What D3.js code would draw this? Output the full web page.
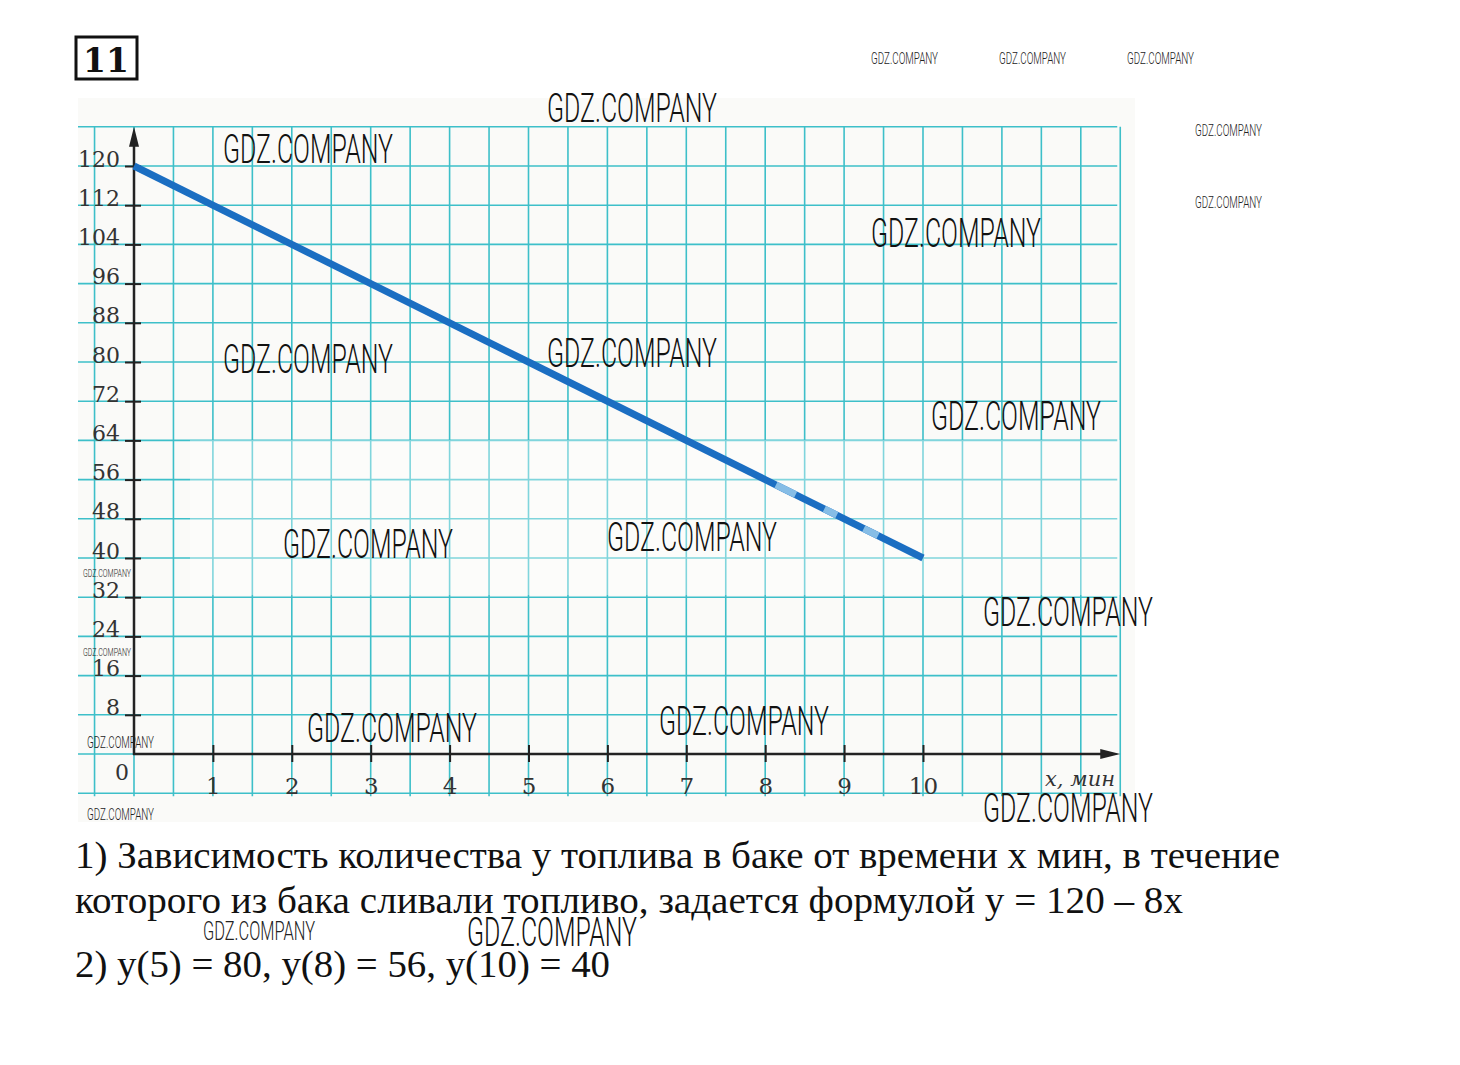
<!DOCTYPE html>
<html>
<head>
<meta charset="utf-8">
<script src="https://cdn.jsdelivr.net/npm/d3@7"></script>
<style>
  body { margin: 0; background: #fff; }
  svg { display: block; }
</style>
</head>
<body>
<svg id="chart" width="1460" height="1065"></svg>
<script>
// values
const xTicks = [1, 2, 3, 4, 5, 6, 7, 8, 9, 10];
const yTicks = [8, 16, 24, 32, 40, 48, 56, 64, 72, 80, 88, 96, 104, 112, 120];
const timeX = [0, 5, 8, 10];
const fuelY = [120, 80, 56, 40];
const answerLines = [
    "1) Зависимость количества у топлива в баке от времени х мин, в течение",
    "которого из бака сливали топливо, задается формулой у = 120 – 8х",
    "2) у(5) = 80, у(8) = 56, у(10) = 40"
];
const bigMarks = [
    [547, 107], [223, 148], [871, 232], [223, 358], [547, 352], [931, 415],
    [283, 543], [607, 536], [983, 611], [307, 727], [659, 720], [983, 807], [467, 931]
];
const smallMarks = [
    [871, 58], [999, 58], [1127, 58], [1195, 130], [1195, 202], [87, 742], [87, 814]
];

const svg = d3.select("#chart");

const x = d3.scaleLinear().domain([0, 10]).range([134, 923]);
const y = d3.scaleLinear().domain([0, 120]).range([754, 166]);

// scanned paper
svg.append("rect")
    .attr("x", 78).attr("y", 98)
    .attr("width", 1057).attr("height", 724)
    .attr("fill", "#fafaf8");

// problem number
svg.append("rect")
    .attr("x", 76).attr("y", 37)
    .attr("width", 61).attr("height", 42)
    .attr("fill", "none")
    .attr("stroke", "#111")
    .attr("stroke-width", 3);
svg.append("text")
    .attr("x", 106).attr("y", 72)
    .attr("text-anchor", "middle")
    .attr("font-family", "DejaVu Serif")
    .attr("font-weight", "bold")
    .attr("font-size", 33)
    .attr("fill", "#111")
    .text("11");

// grid
const grid = svg.append("g")
    .attr("stroke", "#3dbfc9")
    .attr("stroke-width", 1.6);

const gx = d3.range(-0.5, 12.51, 0.5);
const gy = d3.range(-8, 128.1, 8);

grid.selectAll(".v")
    .data(gx)
    .enter()
    .append("line")
    .attr("x1", d => x(d)).attr("x2", d => x(d))
    .attr("y1", y(128)).attr("y2", y(-8) + 3);

grid.selectAll(".h")
    .data(gy)
    .enter()
    .append("line")
    .attr("x1", 78).attr("x2", x(12.5) - 3)
    .attr("y1", d => y(d)).attr("y2", d => y(d));

// erased strip of the scan
svg.append("rect")
    .attr("x", 190).attr("y", 440)
    .attr("width", 930).attr("height", 155)
    .attr("fill", "#fff")
    .attr("opacity", 0.35);

// axes
const yAxis = svg.append("g")
    .attr("transform", `translate(${x(0)},0)`)
    .call(d3.axisLeft(y).tickValues(yTicks).tickSize(9).tickPadding(5));
yAxis.select(".domain").remove();
yAxis.selectAll(".tick line")
    .attr("x1", 7)
    .attr("stroke", "#222")
    .attr("stroke-width", 2);
yAxis.selectAll(".tick text")
    .attr("dy", "0")
    .attr("font-family", "DejaVu Serif")
    .attr("font-size", 22)
    .attr("fill", "#333");

const xAxis = svg.append("g")
    .attr("transform", `translate(0,${y(0)})`)
    .call(d3.axisBottom(x).tickValues(xTicks).tickSize(8).tickPadding(16));
xAxis.select(".domain").remove();
xAxis.selectAll(".tick line")
    .attr("y1", -9)
    .attr("stroke", "#222")
    .attr("stroke-width", 2);
xAxis.selectAll(".tick text")
    .attr("font-family", "DejaVu Serif")
    .attr("font-size", 23)
    .attr("fill", "#333");

svg.append("line")
    .attr("x1", x(0)).attr("x2", x(0))
    .attr("y1", y(0) + 1).attr("y2", y(128) + 12)
    .attr("stroke", "#222").attr("stroke-width", 2.5);
svg.append("line")
    .attr("x1", x(0) - 1).attr("x2", x(12.5) - 14)
    .attr("y1", y(0)).attr("y2", y(0))
    .attr("stroke", "#222").attr("stroke-width", 2.5);

svg.append("path")
    .attr("d", `M${x(0)},${y(128)} l-5,20 l10,0 z`)
    .attr("fill", "#222");
svg.append("path")
    .attr("d", `M${x(12.5)},${y(0)} l-20,-5 l0,10 z`)
    .attr("fill", "#222");

svg.append("text")
    .attr("x", x(0) - 12).attr("y", y(0) + 26)
    .attr("text-anchor", "middle")
    .attr("font-family", "DejaVu Serif")
    .attr("font-size", 22)
    .attr("fill", "#333")
    .text("0");

svg.append("text")
    .attr("x", 1115).attr("y", y(0) + 32)
    .attr("text-anchor", "end")
    .attr("font-family", "DejaVu Serif")
    .attr("font-style", "italic")
    .attr("font-size", 21)
    .attr("fill", "#333")
    .text("x, мин");

// fuel line
const line = d3.line()
    .x(d => x(d[0]))
    .y(d => y(d[1]));

const points = d3.zip(timeX, fuelY);

svg.append("path")
    .datum(points)
    .attr("d", line)
    .attr("fill", "none")
    .attr("stroke", "#1b6ec2")
    .attr("stroke-width", 7);

// faded pieces where the scan was erased
svg.append("path")
    .datum(points.slice(2))
    .attr("d", line)
    .attr("fill", "none")
    .attr("stroke", "#86bde6")
    .attr("stroke-width", 7)
    .attr("stroke-dasharray", "0 12 22 32 14 30 16 100");

// answer text
svg.selectAll(".answer")
    .data(answerLines)
    .enter()
    .append("text")
    .attr("x", 75)
    .attr("y", (d, i) => [868, 913, 977][i])
    .attr("font-family", "Liberation Serif")
    .attr("font-size", 38)
    .attr("fill", "#111")
    .attr("textLength", (d, i) => [1205, 1108, 535][i])
    .attr("lengthAdjust", "spacingAndGlyphs")
    .text(d => d);

// watermarks
svg.selectAll(".wm-big")
    .data(bigMarks)
    .enter()
    .append("text")
    .attr("x", d => d[0])
    .attr("y", d => d[1] + 15)
    .attr("font-family", "Roboto")
    .attr("font-weight", 300)
    .attr("font-size", 40)
    .attr("fill", "#111")
    .attr("textLength", 170)
    .attr("lengthAdjust", "spacingAndGlyphs")
    .text("GDZ.COMPANY");

svg.selectAll(".wm-small")
    .data(smallMarks)
    .enter()
    .append("text")
    .attr("x", d => d[0])
    .attr("y", d => d[1] + 6)
    .attr("font-family", "Roboto")
    .attr("font-weight", 300)
    .attr("font-size", 16)
    .attr("fill", "#222")
    .attr("textLength", 67)
    .attr("lengthAdjust", "spacingAndGlyphs")
    .text("GDZ.COMPANY");

[[83, 573], [83, 652]].forEach(p => {
    svg.append("text")
        .attr("x", p[0]).attr("y", p[1] + 4)
        .attr("font-family", "Roboto")
        .attr("font-weight", 300)
        .attr("font-size", 11)
        .attr("fill", "#222")
        .attr("textLength", 48)
        .attr("lengthAdjust", "spacingAndGlyphs")
        .text("GDZ.COMPANY");
});

svg.append("text")
    .attr("x", 203).attr("y", 940)
    .attr("font-family", "Roboto")
    .attr("font-weight", 300)
    .attr("font-size", 25)
    .attr("fill", "#222")
    .attr("textLength", 112)
    .attr("lengthAdjust", "spacingAndGlyphs")
    .text("GDZ.COMPANY");
</script>
</body>
</html>
